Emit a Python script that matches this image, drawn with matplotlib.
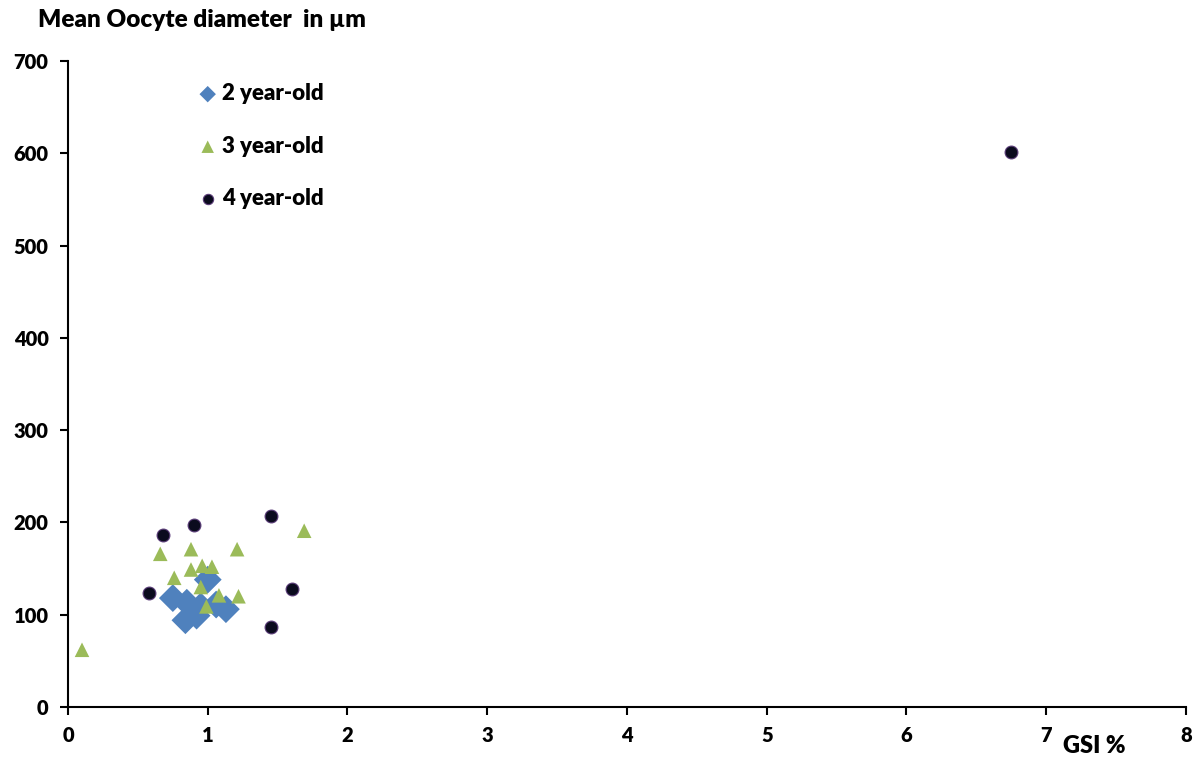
import matplotlib.pyplot as plt

plt.rcParams['font.family'] = ['Lato', 'DejaVu Sans']
plt.rcParams['font.weight'] = 'bold'

# GSI % (x) and mean oocyte diameter in um (y) per age group
gsi_2yo = [0.75, 0.85, 0.84, 0.92, 0.95, 1.0, 1.06, 1.13]
diam_2yo = [118, 113, 94, 99, 109, 138, 111, 106]

gsi_3yo = [0.10, 0.66, 0.88, 1.21, 1.69, 0.88, 0.96, 1.03, 0.76, 0.95, 1.08, 1.22, 0.99]
diam_3yo = [62, 166, 171, 171, 191, 149, 153, 152, 140, 130, 121, 120, 109]

gsi_4yo = [0.58, 0.68, 0.90, 1.45, 1.60, 1.45, 6.75]
diam_4yo = [124, 186, 197, 207, 128, 87, 601]

fig = plt.figure(figsize=(12.02, 7.63), dpi=100)
ax = fig.add_axes([0.0566, 0.0734, 0.93, 0.8466])

ax.scatter(gsi_2yo, diam_2yo, marker='D', s=200, color='#4F81BD', edgecolors='none',
           label='2 year-old', zorder=2)
ax.scatter(gsi_3yo, diam_3yo, marker='^', s=110, color='#9BBB59', edgecolors='none',
           label='3 year-old', zorder=3)
ax.scatter(gsi_4yo, diam_4yo, marker='o', s=85, color='#0B0B1E', edgecolors='#5A3C78',
           linewidths=0.8, label='4 year-old', zorder=4)

ax.set_xlim(0, 8)
ax.set_ylim(0, 700)
ax.set_xticks(range(0, 9))
ax.set_yticks(range(0, 701, 100))
ax.spines['top'].set_visible(False)
ax.spines['right'].set_visible(False)
ax.spines['left'].set_linewidth(1.5)
ax.spines['bottom'].set_linewidth(1.5)
ax.tick_params(direction='out', length=6, width=1.5, labelsize=14.5, pad=8)
for lbl in ax.get_xticklabels() + ax.get_yticklabels():
    lbl.set_fontweight('heavy')

fig.text(0.032, 0.974, 'Mean Oocyte diameter  in \u00b5m', fontsize=17.5, fontweight='heavy',
         va='center', ha='left')
fig.text(0.884, 0.022, 'GSI %', fontsize=17, fontweight='heavy', va='center', ha='left')

leg = ax.legend(loc='upper left', bbox_to_anchor=(0.115, 0.966), frameon=False,
                labelspacing=1.42, handlelength=1.0, handletextpad=0.15, borderpad=0,
                borderaxespad=0, prop={'weight': 'heavy', 'size': 16})
# same-sized symbols in the legend
for h, s in zip(leg.legend_handles, [70, 80, 55]):
    h.set_sizes([s])

plt.savefig('out.png', dpi=100)
